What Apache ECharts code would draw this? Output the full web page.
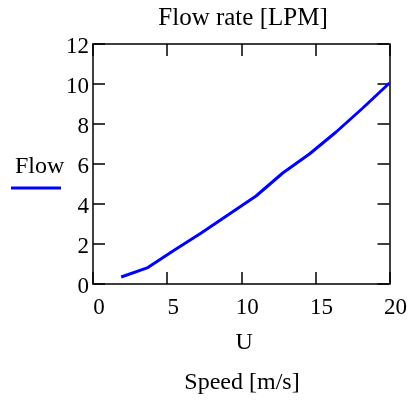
<!DOCTYPE html>
<html>
<head>
<meta charset="utf-8">
<script src="https://cdn.jsdelivr.net/npm/echarts@6/dist/echarts.min.js"></script>
<style>html,body{margin:0;padding:0;background:#fff;}#c{width:410px;height:400px;}</style>
</head>
<body>
<div id="c"></div>
<script>
const speedU = [1.9, 3.7, 5.5, 7.3, 9.1, 11.0, 12.8, 14.6, 16.4, 18.2, 20.0];
const flowLPM = [0.35, 0.82, 1.7, 2.55, 3.45, 4.4, 5.55, 6.5, 7.6, 8.8, 10.05];
const titleText = 'Flow rate [LPM]';
const xAxisName = 'U';
const xAxisTitle = 'Speed [m/s]';
const legendName = 'Flow';

const font = 'Liberation Serif, Times New Roman, serif';
const fs = 23;
const fsName = 24;
const chart = echarts.init(document.getElementById('c'), null, {renderer: 'canvas'});
const axisLine = {show: true, onZero: false, lineStyle: {color: '#000', width: 1.5}};
const tick = {show: true, inside: true, length: 12, lineStyle: {color: '#000', width: 1.5}};
chart.setOption({
  animation: false,
  backgroundColor: '#fff',
  title: [
    {text: titleText, left: 238, textAlign: 'center', top: 1,
     textStyle: {fontFamily: font, fontSize: 25, fontWeight: 'normal', color: '#000'}},
    {text: xAxisTitle, left: 237, textAlign: 'center', top: 366,
     textStyle: {fontFamily: font, fontSize: fsName, fontWeight: 'normal', color: '#000'}}
  ],
  grid: {left: 93, right: 18, top: 44, bottom: 116, containLabel: false},
  xAxis: [
    {type: 'value', min: 0, max: 20, interval: 5, position: 'bottom',
     axisLine: axisLine, axisTick: tick, splitLine: {show: false},
     axisLabel: {fontFamily: font, fontSize: fs, color: '#000', margin: 12, padding: [0, 0, 0, 12]},
     name: xAxisName, nameLocation: 'middle', nameGap: 47,
     nameTextStyle: {fontFamily: font, fontSize: fsName, color: '#000', padding: [0, 0, 0, 6]}},
    {type: 'value', min: 0, max: 20, interval: 5, position: 'top',
     axisLine: axisLine, axisTick: tick, splitLine: {show: false}, axisLabel: {show: false}}
  ],
  yAxis: [
    {type: 'value', min: 0, max: 12, interval: 2, position: 'left',
     axisLine: axisLine, axisTick: tick, splitLine: {show: false},
     axisLabel: {fontFamily: font, fontSize: fs, color: '#000', margin: 4,
                 verticalAlign: 'top', lineHeight: 6}},
    {type: 'value', min: 0, max: 12, interval: 2, position: 'right',
     axisLine: axisLine, axisTick: tick, splitLine: {show: false}, axisLabel: {show: false}}
  ],
  series: [{
    name: legendName, type: 'line', showSymbol: false, smooth: false,
    data: speedU.map((u, i) => [u, flowLPM[i]]),
    lineStyle: {color: '#0000ff', width: 3}, itemStyle: {color: '#0000ff'}
  }],
  graphic: [
    {type: 'text', left: 15, top: 155,
     style: {text: legendName, font: fsName + 'px ' + font, fill: '#000'}},
    {type: 'line', shape: {x1: 11, y1: 188, x2: 61, y2: 188},
     style: {stroke: '#0000ff', lineWidth: 3}}
  ]
});
</script>
</body>
</html>
